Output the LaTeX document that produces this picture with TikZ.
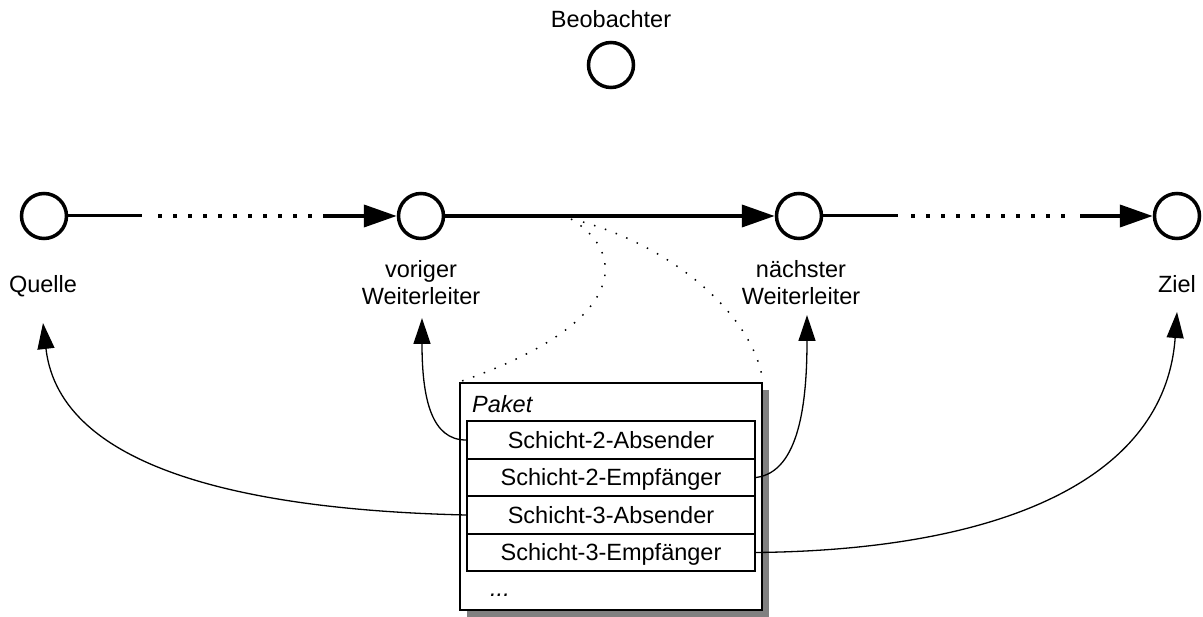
\documentclass[tikz,border=0pt]{standalone}
\usepackage{fontspec}
\setmainfont{Liberation Sans}
\usetikzlibrary{arrows.meta,shadows}
\begin{document}
\begin{tikzpicture}[x=1pt,y=-1pt,
  station/.style={circle,draw,fill=white,line width=3.5pt,minimum size=45pt,inner sep=0pt},
  lbl/.style={font=\fontsize{23.5}{27}\selectfont,align=center,inner sep=0pt},
  thinseg/.style={line width=3pt},
  dotseg/.style={line width=4pt,dash pattern=on 4pt off 11pt},
  thickseg/.style={line width=4pt,-{Triangle[length=33pt,width=22pt]}},
  ref/.style={line width=1.3pt,-{Triangle[length=26pt,width=17pt]}},
  hint/.style={line width=1.5pt,dash pattern=on 1.5pt off 10pt},
  field/.style={draw,line width=2pt,minimum width=288pt,minimum height=37.5pt,inner sep=0pt,
    text height=16.5pt,text depth=0pt,font=\fontsize{23.5}{27}\selectfont},
  packet/.style={draw,fill=white,line width=2pt,minimum width=302pt,minimum height=227pt,inner sep=0pt,
    drop shadow={shadow xshift=7pt,shadow yshift=-7pt,fill=black!50,opacity=1}}
]
\useasboundingbox (0,0) rectangle (1203,617);

% stations on the path
\node[station] (q) at (44,216) {};
\node[station] (v) at (421,216) {};
\node[station] (n) at (799,216) {};
\node[station] (z) at (1177,216) {};
\node[station] (b) at (611,65) {};

\node[lbl,anchor=base] (bl) at (611,28) {Beobachter};
\node[lbl,anchor=base] (ql) at (43,293) {Quelle};
\node[lbl,anchor=base] (vl) at (421,305) {voriger\\Weiterleiter};
\node[lbl,anchor=base] (nl) at (801,305) {nächster\\Weiterleiter};
\node[lbl,anchor=base] (zl) at (1177,293) {Ziel};

% path segments
\coordinate (q1) at (142,216);
\coordinate (q2) at (158,216);
\coordinate (q3) at (316,216);
\coordinate (q4) at (323,216);
\draw[thinseg] (q.east) -- (q1);
\draw[dotseg] (q2) -- (q3);
\draw[thickseg] (q4) -- (v.west);

\draw[thickseg] (v.east) -- (n.west);

\coordinate (n1) at (898,216);
\coordinate (n2) at (911,216);
\coordinate (n3) at (1072,216);
\coordinate (n4) at (1080,216);
\draw[thinseg] (n.east) -- (n1);
\draw[dotseg] (n2) -- (n3);
\draw[thickseg] (n4) -- (z.west);

% packet
\node[packet] (pkt) at (611,496.5) {};
\node[anchor=base west,inner sep=0pt,font=\fontsize{23.5}{27}\selectfont\itshape] (pl) at (472,413) {Paket};
\node[field] (f1) at (611,440) {Schicht-2-Absender};
\node[field] (f2) at (611,477.5) {Schicht-2-Empfänger};
\node[field] (f3) at (611,515) {Schicht-3-Absender};
\node[field] (f4) at (611,552.5) {Schicht-3-Empfänger};
\node[anchor=base west,inner sep=0pt,font=\fontsize{23.5}{27}\selectfont\itshape] (el) at (490,596) {...};

% dotted hints from the link to the packet
\coordinate (h1) at (571,219);
\coordinate (h2) at (583,222);
\draw[hint] (h1) .. controls (630,255) and (625,325) .. (pkt.north west);
\draw[hint] (h2) .. controls (680,250) and (755,320) .. (pkt.north east);

% references from header fields to stations
\coordinate (qt) at (43,323);
\coordinate (vt) at (422,318);
\coordinate (nt) at (807,315);
\coordinate (zt) at (1177,312);
\draw[ref] (f1.west) .. controls (432,440) and (422,400) .. (vt);
\draw[ref] (f2.east) .. controls (800,472) and (807,400) .. (nt);
\draw[ref] (f3.west) .. controls (250,510) and (60,470) .. (qt);
\draw[ref] (f4.east) .. controls (1000,550) and (1165,480) .. (zt);
\end{tikzpicture}
\end{document}
